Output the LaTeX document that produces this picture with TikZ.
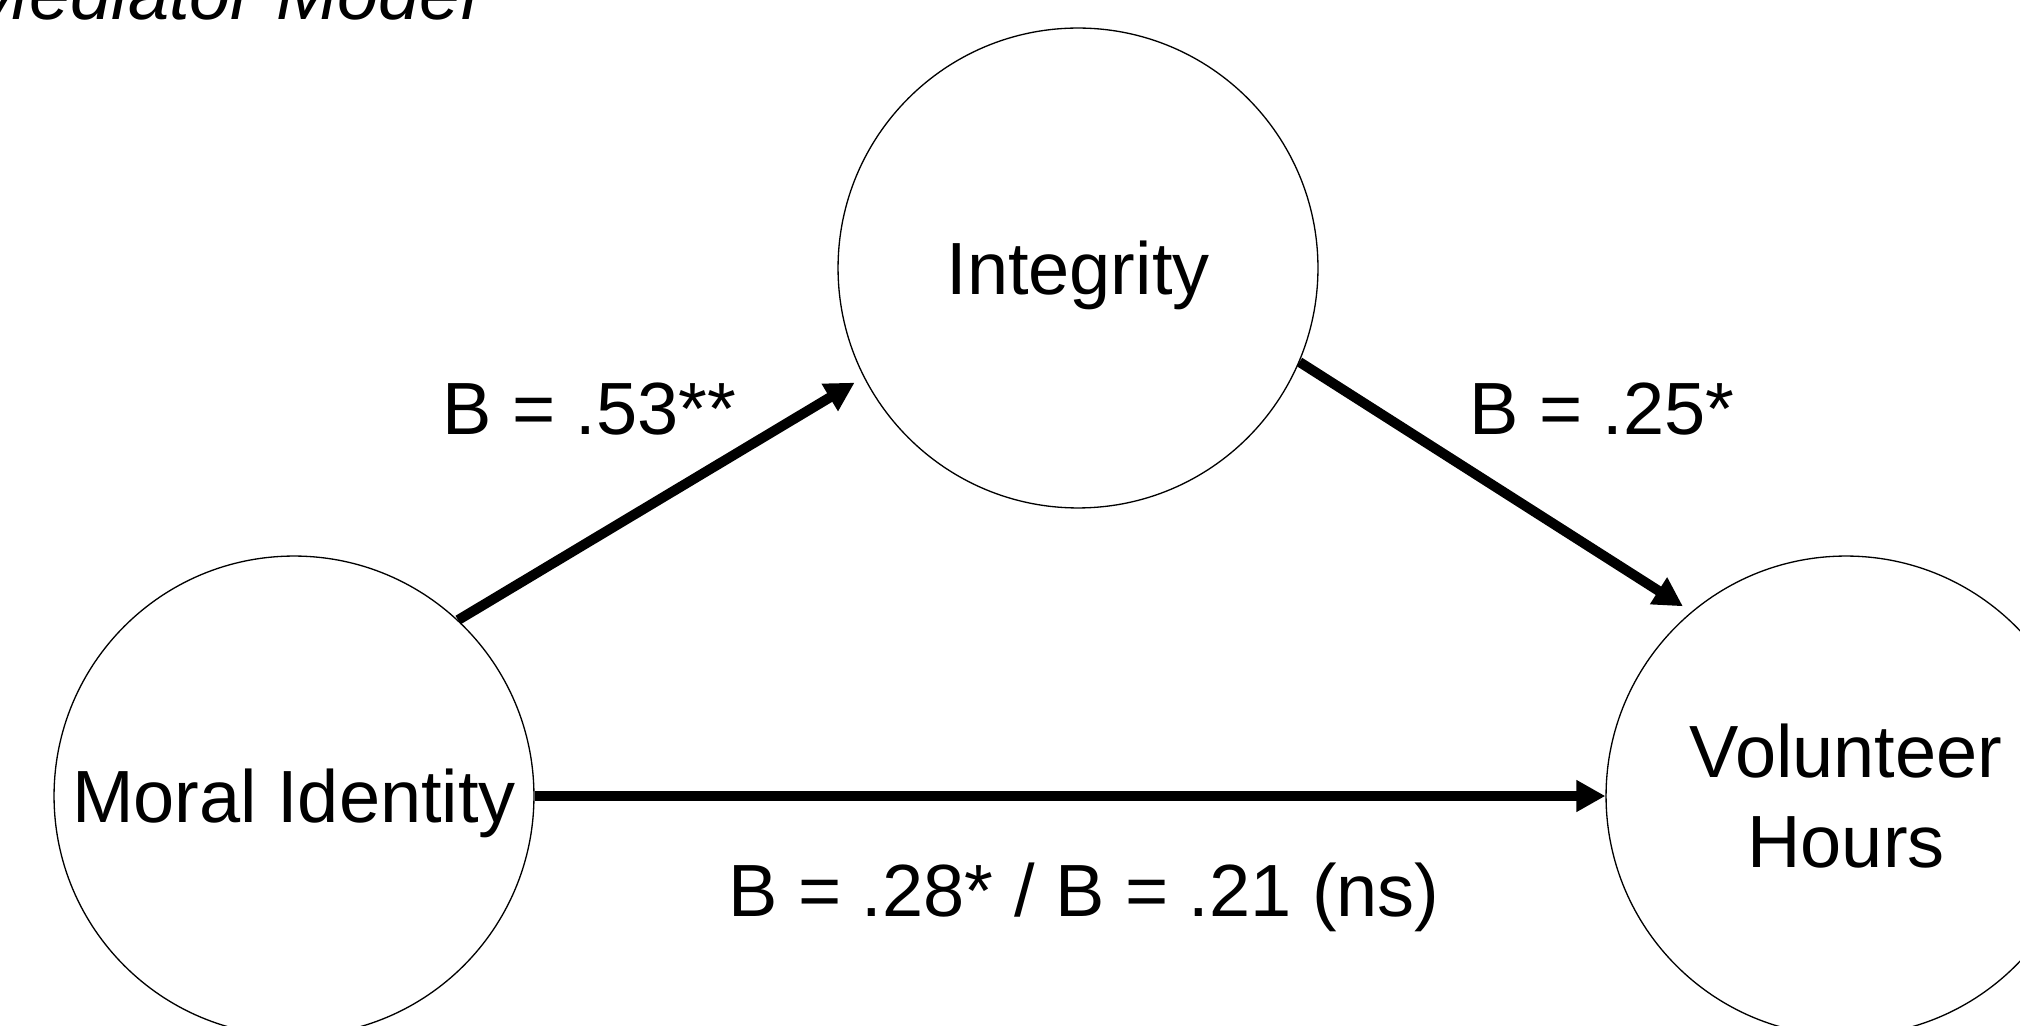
\documentclass[tikz,border=0pt]{standalone}
\usepackage{fontspec}
\setmainfont{Liberation Sans}
\usepackage{tikz}
\usetikzlibrary{arrows.meta,positioning}
\definecolor{medInk}{RGB}{0,0,0}
\tikzset{
    medCircle/.style={
        circle,
        draw=medInk,
        line width=0.75pt,
        minimum size=9.6cm,
        inner sep=0pt,
        align=center,
        text depth=0pt
    },
    medArrow/.style={-{Triangle[length=0.58cm,width=0.6cm]}, line width=0.2cm, draw=medInk},
    medLabel/.style={anchor=base west, inner sep=0pt}
}

\begin{document}
\begin{tikzpicture}[x=0.02cm, y=0.02cm, font=\fontsize{42.1pt}{51.2pt}\selectfont]
\useasboundingbox (0,0) rectangle (2020,1025);
\clip (0,0) rectangle (2020,1025);
% title, cut at the page edge
\node[anchor=base east, inner sep=0pt, font=\fontsize{42.1pt}{51.2pt}\selectfont\itshape] (title) at (478,1005) {Mediator Model};
% the three variables
\node[medCircle] (moral) at (294,229) {Moral Identity};
\node[medCircle] (integ) at (1078,757) {Integrity};
\node[medCircle] (hours) at (1846,229) {Volunteer\\Hours};
% paths
\draw[medArrow, shorten >=0.21cm] (moral.47) -- (integ.207);
\draw[medArrow, shorten >=0.2cm] (integ.-23) -- (hours.130);
\draw[medArrow] (moral) -- (hours);
\node[medLabel] (bA) at (442,590) {B = .53**};
\node[medLabel] (bB) at (1469,590) {B = .25*};
\node[medLabel] (bC) at (728,109) {B = .28* / B = .21 (ns)};
\end{tikzpicture}
\end{document}
